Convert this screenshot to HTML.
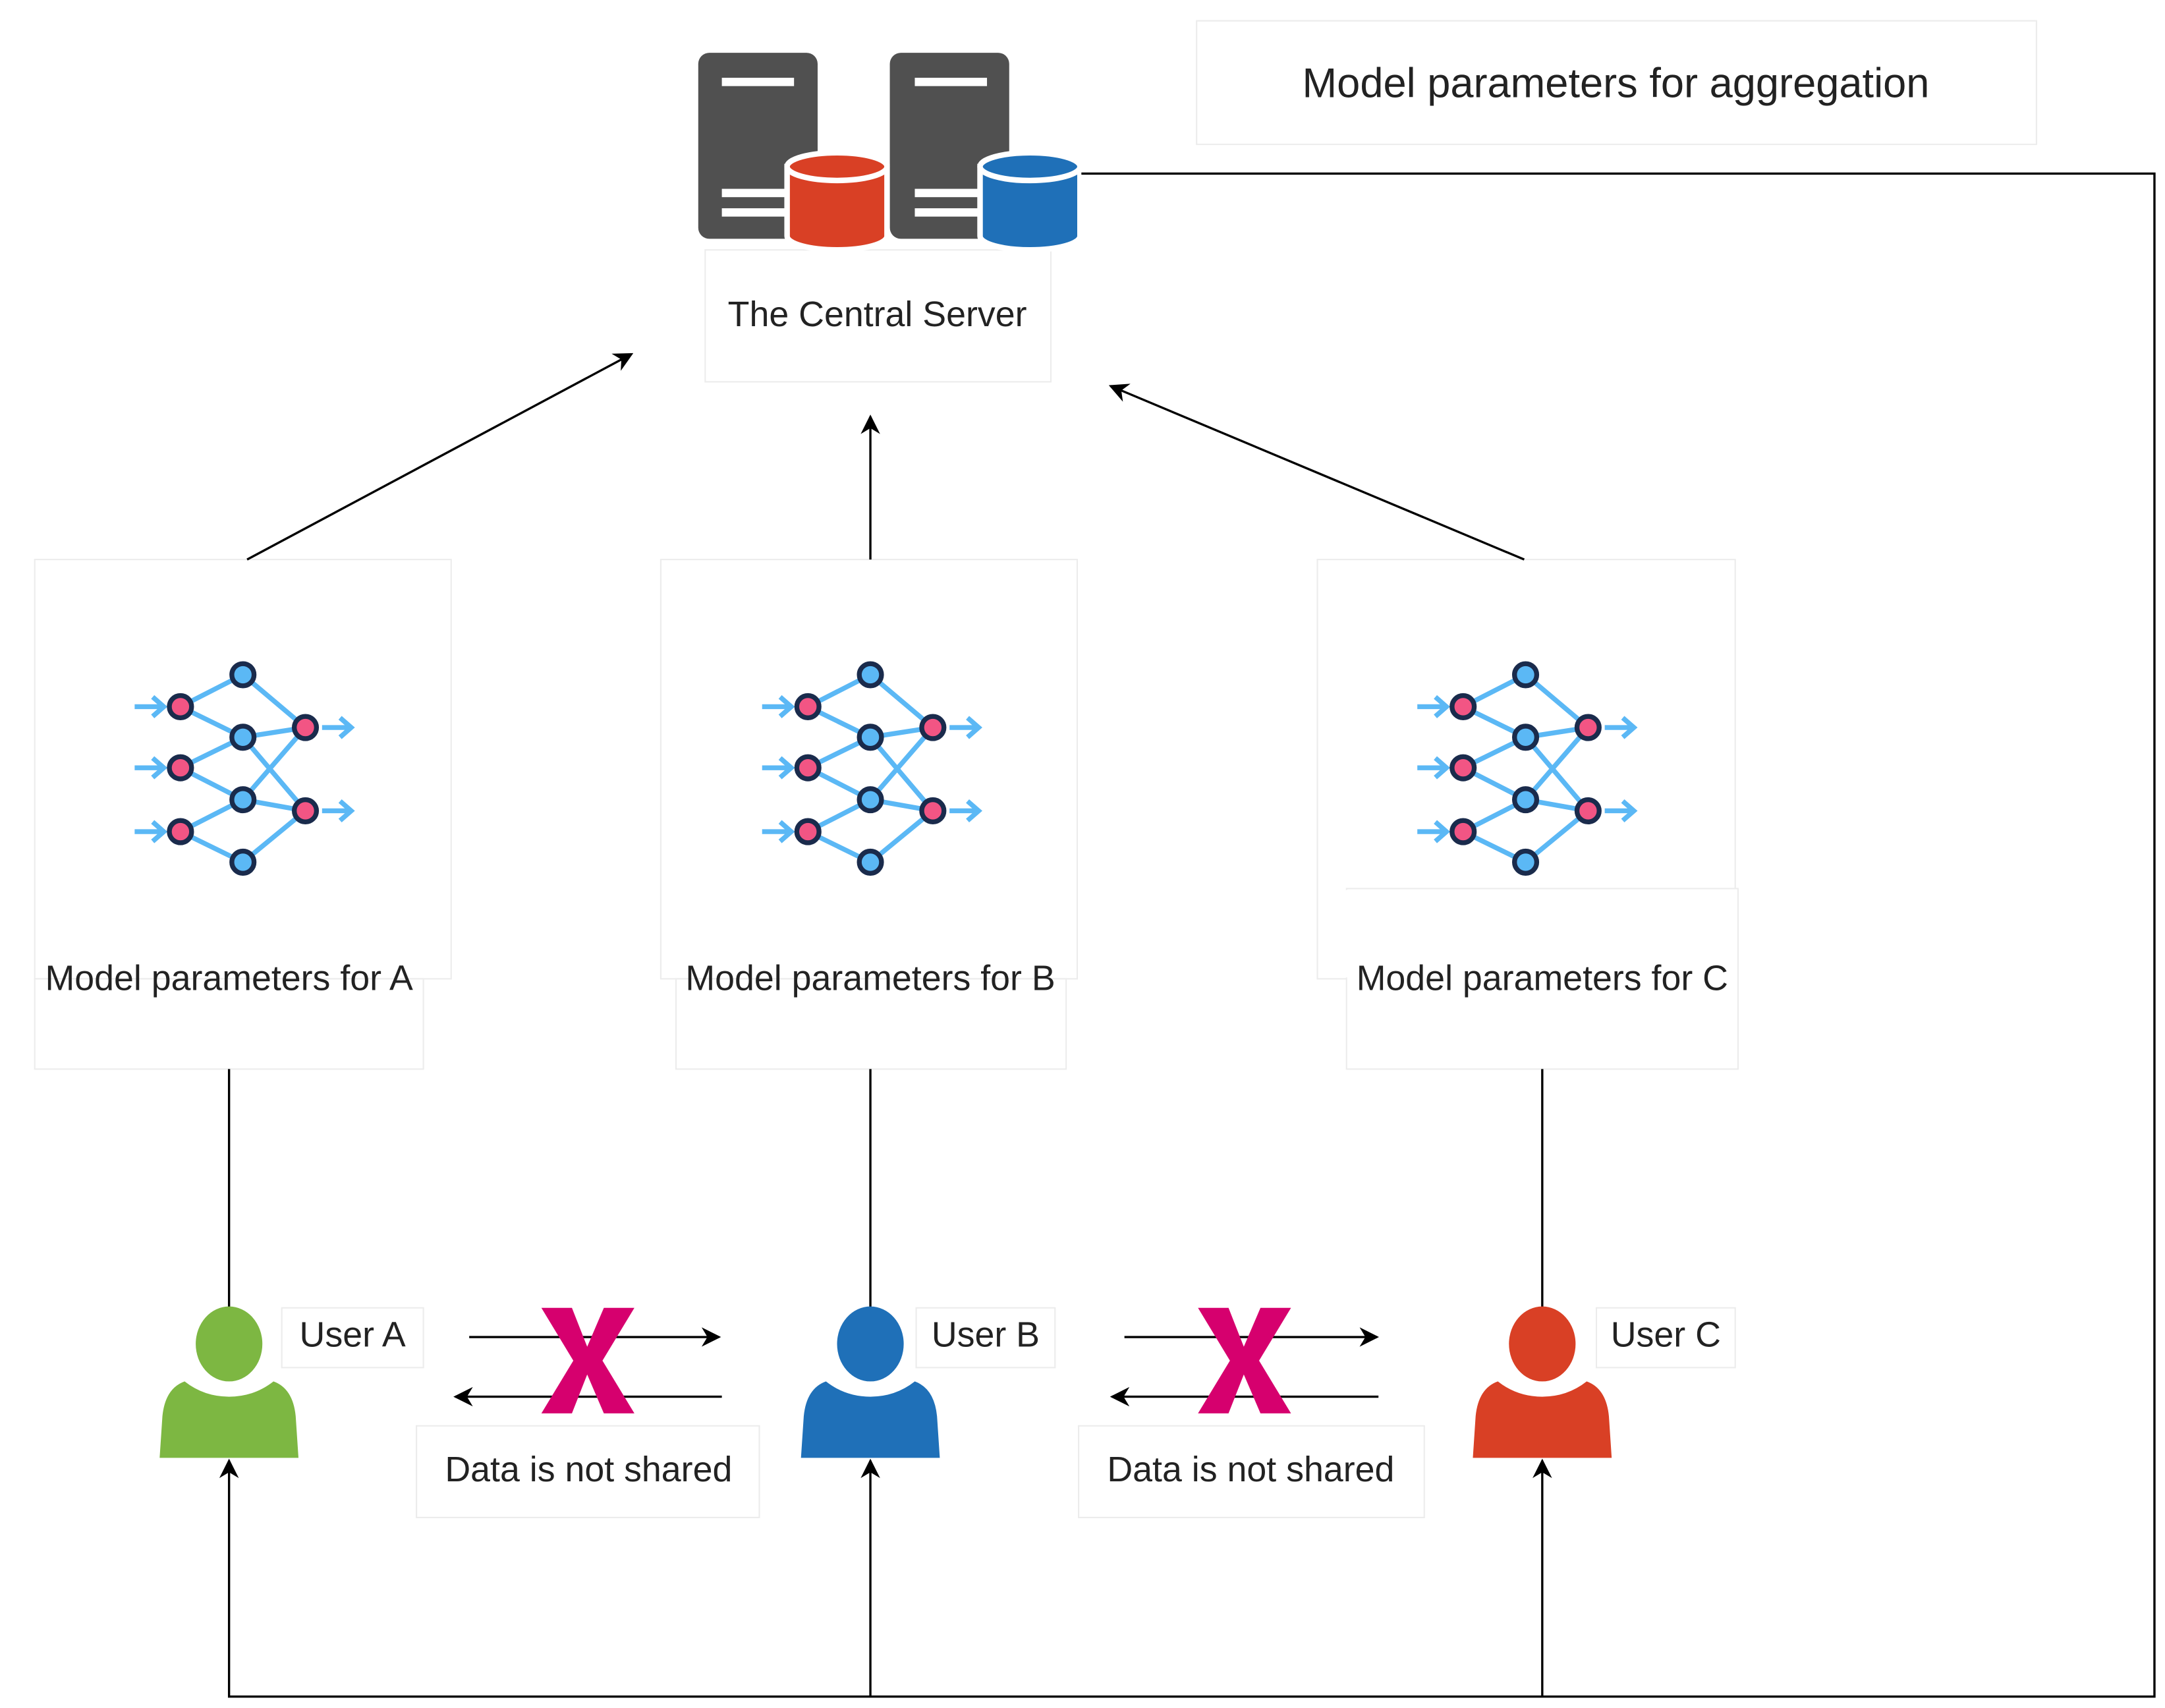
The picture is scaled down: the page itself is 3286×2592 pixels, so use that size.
<!DOCTYPE html>
<html><head><meta charset="utf-8"><style>html,body{margin:0;padding:0;background:#fff}svg{display:block}</style></head>
<body>
<svg width="3286" height="2592" viewBox="0 0 1559.6 1230.2" xmlns="http://www.w3.org/2000/svg" font-family="Liberation Sans, sans-serif">
<defs>
<marker id="ar2" viewBox="0 0 10 10" refX="9" refY="5" markerWidth="14" markerHeight="14" markerUnits="userSpaceOnUse" orient="auto"><path d="M0,0 L10,5 L0,10 L3,5 Z" fill="#000"/></marker>
<g id="nn">
<g stroke="#5bb8f5" stroke-width="3.5" fill="none">
<path d="M130,509 L175,486 M130,509 L175,531 M130,553 L175,531 M130,553 L175,576 M130,599 L175,576 M130,599 L175,621 M175,486 L220,524 M175,531 L220,524 M175,531 L220,584 M175,576 L220,524 M175,576 L220,584 M175,621 L220,584"/>
<path d="M97,509 H117 M110,502 L118,509 L110,516 M97,553 H117 M110,546 L118,553 L110,560 M97,599 H117 M110,592 L118,599 L110,606 M232,524 H252 M245,517 L253,524 L245,531 M232,584 H252 M245,577 L253,584 L245,591"/>
</g>
<g stroke="#1a2b4c" stroke-width="3.5">
<circle cx="130" cy="509" r="8" fill="#f25584"/><circle cx="130" cy="553" r="8" fill="#f25584"/><circle cx="130" cy="599" r="8" fill="#f25584"/>
<circle cx="175" cy="486" r="8" fill="#5bb8f5"/><circle cx="175" cy="531" r="8" fill="#5bb8f5"/><circle cx="175" cy="576" r="8" fill="#5bb8f5"/><circle cx="175" cy="621" r="8" fill="#5bb8f5"/>
<circle cx="220" cy="524" r="8" fill="#f25584"/><circle cx="220" cy="584" r="8" fill="#f25584"/>
</g>
</g>
<path id="body" d="M-32,995 Q-18,1006 0,1006 Q18,1006 32,995 Q46,1000 48,1020 L50,1050 L-50,1050 L-48,1020 Q-46,1000 -32,995 Z"/>
</defs>

<g fill="#fff" stroke="#ececec" stroke-width="1">
<rect x="862" y="15" width="605" height="89"/>
<rect x="508" y="180" width="249" height="95"/>
<rect x="25" y="403" width="300" height="302"/>
<rect x="476" y="403" width="300" height="302"/>
<rect x="949" y="403" width="301" height="302"/>
<rect x="25" y="705" width="280" height="65"/>
<rect x="487" y="705" width="281" height="65"/>
<rect x="970" y="640" width="282" height="130"/>
<rect x="203" y="942" width="102" height="43"/>
<rect x="660" y="942" width="100" height="43"/>
<rect x="1150" y="942" width="100" height="43"/>
<rect x="300" y="1027" width="247" height="66"/>
<rect x="777" y="1027" width="249" height="66"/>
</g>
<rect x="950" y="641" width="299" height="63" fill="#fff"/>

<rect x="503" y="38" width="86" height="134" rx="8" fill="#505050"/>
<rect x="641" y="38" width="86" height="134" rx="8" fill="#505050"/>
<g fill="#fff"><rect x="520" y="56" width="52" height="6"/><rect x="659" y="56" width="52" height="6"/>
<rect x="520" y="136" width="52" height="6"/><rect x="520" y="150" width="52" height="6"/>
<rect x="659" y="136" width="52" height="6"/><rect x="659" y="150" width="52" height="6"/></g>
<g stroke="#fff" stroke-width="4">
<path d="M567,120 V170 A36,10 0 0 0 639,170 V120 Z" fill="#d94025"/>
<ellipse cx="603" cy="120" rx="36" ry="10" fill="#d94025"/>
<path d="M706,120 V170 A36,10 0 0 0 778,170 V120 Z" fill="#1f70b8"/>
<ellipse cx="742" cy="120" rx="36" ry="10" fill="#1f70b8"/>
</g>

<g stroke="#000" stroke-width="1.6" fill="none">
<path d="M779,125 H1552 V1222 H165 V1052" marker-end="url(#ar2)"/>
<path d="M627,1222 V1052" marker-end="url(#ar2)"/>
<path d="M1111,1222 V1052" marker-end="url(#ar2)"/>
<path d="M178,403 L455,255" marker-end="url(#ar2)"/>
<path d="M627,403 L627,300" marker-end="url(#ar2)"/>
<path d="M1098,403 L800,278" marker-end="url(#ar2)"/>
<path d="M165,770 V942 M627,770 V942 M1111,770 V942"/>
<path d="M338,963 H518" marker-end="url(#ar2)"/>
<path d="M520,1006 H328" marker-end="url(#ar2)"/>
<path d="M810,963 H992" marker-end="url(#ar2)"/>
<path d="M993,1006 H801" marker-end="url(#ar2)"/>
</g>

<use href="#nn"/>
<use href="#nn" x="452"/>
<use href="#nn" x="924"/>

<ellipse cx="165" cy="968" rx="24" ry="27" fill="#7db742"/>
<use href="#body" x="165" fill="#7db742"/>
<ellipse cx="627" cy="968" rx="24" ry="27" fill="#1f70b8"/>
<use href="#body" x="627" fill="#1f70b8"/>
<ellipse cx="1111" cy="968" rx="24" ry="27" fill="#d94025"/>
<use href="#body" x="1111" fill="#d94025"/>

<g fill="#d6006e">
<path d="M390,942 H412 L423,970 L435,942 H457 L434,980 L457,1018 H435 L423,990 L412,1018 H390 L413,980 Z"/>
<path d="M863,942 H885 L896,970 L908,942 H930 L907,980 L930,1018 H908 L896,990 L885,1018 H863 L886,980 Z"/>
</g>

<g fill="#222" text-anchor="middle">
<text x="1164" y="70" font-size="30">Model parameters for aggregation</text>
<text x="632" y="235" font-size="25.5">The Central Server</text>
<text x="165" y="713" font-size="25.5">Model parameters for A</text>
<text x="627" y="713" font-size="25.5">Model parameters for B</text>
<text x="1111" y="713" font-size="25.5">Model parameters for C</text>
<text x="254" y="970" font-size="25.5">User A</text>
<text x="710" y="970" font-size="25.5">User B</text>
<text x="1200" y="970" font-size="25.5">User C</text>
<text x="424" y="1067" font-size="25.5">Data is not shared</text>
<text x="901" y="1067" font-size="25.5">Data is not shared</text>
</g>
</svg>
</body></html>
